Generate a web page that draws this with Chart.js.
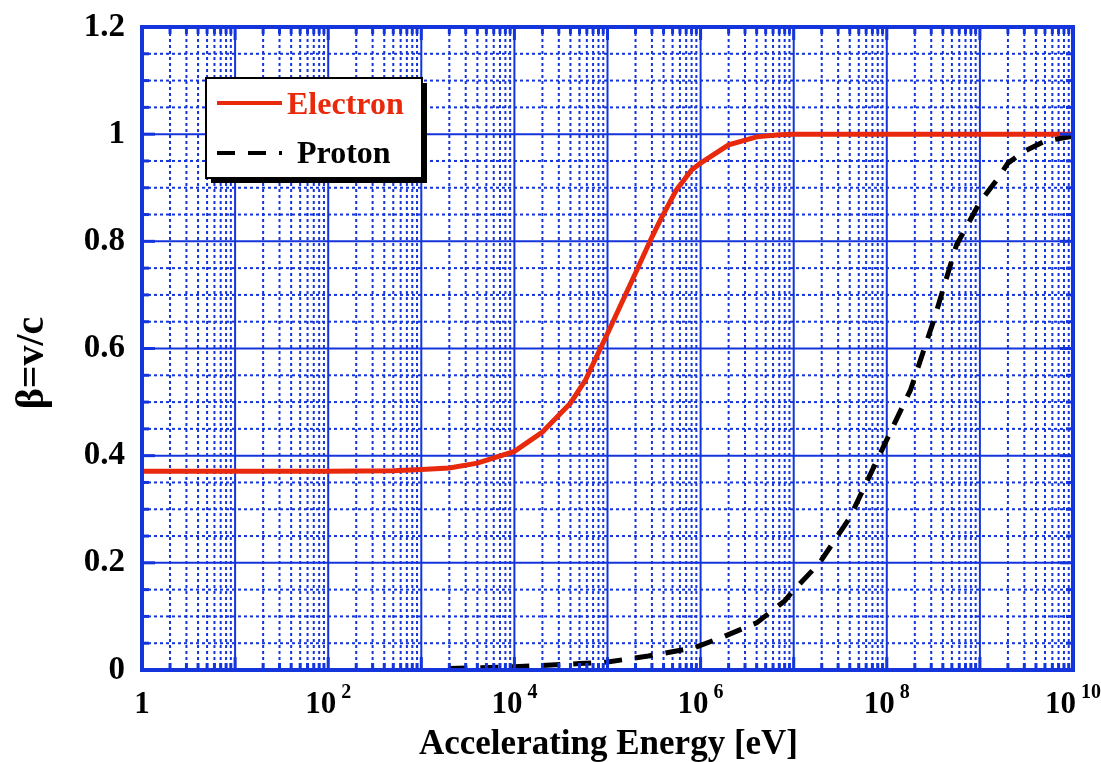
<!DOCTYPE html>
<html><head><meta charset="utf-8">
<script src="https://cdn.jsdelivr.net/npm/chart.js@4/dist/chart.umd.min.js"></script>
<style>html,body{margin:0;padding:0;background:#fff;}canvas{display:block}</style>
</head><body>
<canvas id="c" width="1101" height="762"></canvas>
<script>
// ---- data ----
const electronEnergy = [1, 10, 100, 500, 1e3, 2e3, 4e3, 1e4, 2e4, 4e4, 5.8e4, 1e5, 2e5, 3e5, 3.7e5, 5.5e5, 8e5, 1e6, 2e6, 4e6, 7e6, 1e7, 1e10];
const electronBeta   = [0.371, 0.371, 0.371, 0.372, 0.374, 0.377, 0.386, 0.408, 0.444, 0.498, 0.541, 0.628, 0.741, 0.808, 0.84, 0.896, 0.933, 0.946, 0.98, 0.995, 0.999, 1.0, 1.0];
const protonEnergy = [2e3, 1e4, 5e4, 1e5, 2.75e5, 8.3e5, 1e6, 1.75e6, 4e6, 8e6, 1e7, 1.9e7, 4e7, 1e8, 1.8e8, 3.2e8, 5.6e8, 1e9, 1.6e9, 2e9, 3e9, 5e9, 1e10];
const protonBeta   = [0.003, 0.006, 0.012, 0.015, 0.026, 0.041, 0.046, 0.062, 0.088, 0.129, 0.149, 0.2, 0.284, 0.43, 0.523, 0.653, 0.793, 0.873, 0.92, 0.946, 0.968, 0.987, 0.996];
const seriesNames = ['Electron', 'Proton'];
const xTickValues = [1, 1e2, 1e4, 1e6, 1e8, 1e10];
const xTickBase   = ['1', '10', '10', '10', '10', '10'];
const xTickExp    = ['', '2', '4', '6', '8', '10'];
const yTickValues = [0, 0.2, 0.4, 0.6, 0.8, 1, 1.2];
const yTickLabels = ['0', '0.2', '0.4', '0.6', '0.8', '1', '1.2'];
const xTitle = 'Accelerating Energy [eV]';
const yTitle = 'β=v/c';

const BLUE = '#1434dc';
const RED = '#e8290b';
const FONT = '"Liberation Serif", "Times New Roman", serif';

function seg(ctx, x1, y1, x2, y2) { ctx.beginPath(); ctx.moveTo(x1, y1); ctx.lineTo(x2, y2); ctx.stroke(); }

const decorPlugin = {
  id: 'decor',
  beforeDatasetsDraw(chart) {
    const { ctx, chartArea: a, scales: { x, y } } = chart;
    ctx.save();
    ctx.strokeStyle = BLUE;
    ctx.lineWidth = 2;
    ctx.setLineDash([3, 3]);
    for (let d = 0; d < 10; d++) {
      for (let m = 2; m <= 9; m++) {
        const px = x.getPixelForValue(m * Math.pow(10, d));
        seg(ctx, px, a.top, px, a.bottom);
      }
    }
    for (let k = 1; k < 24; k++) {
      if (k % 4 === 0) continue;
      const py = y.getPixelForValue(k * 0.05);
      seg(ctx, a.left, py, a.right, py);
    }
    ctx.setLineDash([]);
    for (let d = 1; d < 10; d++) {
      const px = x.getPixelForValue(Math.pow(10, d));
      seg(ctx, px, a.top, px, a.bottom);
    }
    for (let k = 1; k < 6; k++) {
      const py = y.getPixelForValue(k * 0.2);
      seg(ctx, a.left, py, a.right, py);
    }
    ctx.restore();
  },
  afterDatasetsDraw(chart) {
    const { ctx, chartArea: a, scales: { x, y } } = chart;
    ctx.save();
    ctx.strokeStyle = BLUE;
    ctx.lineWidth = 3;
    for (let d = 0; d <= 10; d++) {
      const px = x.getPixelForValue(Math.pow(10, d));
      seg(ctx, px, a.bottom, px, a.bottom - 13);
      seg(ctx, px, a.top, px, a.top + 13);
      if (d < 10) {
        for (let m = 2; m <= 9; m++) {
          const pm = x.getPixelForValue(m * Math.pow(10, d));
          seg(ctx, pm, a.bottom, pm, a.bottom - 7);
          seg(ctx, pm, a.top, pm, a.top + 7);
        }
      }
    }
    for (let k = 0; k <= 24; k++) {
      const py = y.getPixelForValue(k * 0.05);
      const len = (k % 4 === 0) ? 13 : 7;
      seg(ctx, a.left, py, a.left + len, py);
      seg(ctx, a.right, py, a.right - len, py);
    }
    ctx.lineWidth = 4;
    ctx.strokeRect(a.left, a.top, a.right - a.left, a.bottom - a.top);
    ctx.restore();
  },
  afterDraw(chart) {
    const { ctx, chartArea: a, scales: { x, y } } = chart;
    ctx.save();
    ctx.fillStyle = '#000';
    // y tick labels
    ctx.font = 'bold 33px ' + FONT;
    ctx.textAlign = 'right';
    ctx.textBaseline = 'middle';
    for (let i = 0; i < yTickValues.length; i++) {
      ctx.fillText(yTickLabels[i], a.left - 17, y.getPixelForValue(yTickValues[i]));
    }
    // x tick labels with superscripts
    ctx.textBaseline = 'alphabetic';
    ctx.textAlign = 'left';
    for (let i = 0; i < xTickValues.length; i++) {
      const px = x.getPixelForValue(xTickValues[i]);
      ctx.font = 'bold 31px ' + FONT;
      const wb = ctx.measureText(xTickBase[i]).width;
      let we = 0;
      if (xTickExp[i]) { ctx.font = 'bold 20px ' + FONT; we = ctx.measureText(xTickExp[i]).width + 5; }
      const x0 = px - (wb + we) / 2;
      ctx.font = 'bold 31px ' + FONT;
      ctx.fillText(xTickBase[i], x0, 713);
      if (xTickExp[i]) {
        ctx.font = 'bold 20px ' + FONT;
        ctx.fillText(xTickExp[i], x0 + wb + 5, 698);
      }
    }
    // x title
    ctx.font = 'bold 35px ' + FONT;
    ctx.textAlign = 'center';
    ctx.fillText(xTitle, (a.left + a.right) / 2 + 1, 754);
    // y title
    ctx.save();
    ctx.translate(33, 363);
    ctx.rotate(-Math.PI / 2);
    ctx.font = 'bold 40px ' + FONT;
    ctx.textBaseline = 'middle';
    ctx.fillText(yTitle, 0, 0);
    ctx.restore();
    // legend
    const L = 206, T = 78, W = 216, H = 100;
    ctx.fillStyle = '#000';
    ctx.fillRect(L + 5, T + 5, W, H);
    ctx.fillStyle = '#fff';
    ctx.fillRect(L, T, W, H);
    ctx.strokeStyle = '#000';
    ctx.lineWidth = 2;
    ctx.strokeRect(L, T, W, H);
    ctx.lineWidth = 4;
    ctx.strokeStyle = RED;
    seg(ctx, 217, 103, 282, 103);
    ctx.strokeStyle = '#000';
    ctx.setLineDash([18, 13]);
    seg(ctx, 217, 153, 282, 153);
    ctx.setLineDash([]);
    ctx.font = 'bold 32px ' + FONT;
    ctx.textAlign = 'left';
    ctx.textBaseline = 'alphabetic';
    ctx.fillStyle = RED;
    ctx.fillText(seriesNames[0], 287, 114);
    ctx.fillStyle = '#000';
    ctx.fillText(seriesNames[1], 297, 163);
    ctx.restore();
  }
};

new Chart(document.getElementById('c'), {
  type: 'line',
  data: {
    datasets: [
      {
        label: seriesNames[0],
        data: electronEnergy.map((e, i) => ({ x: e, y: electronBeta[i] })),
        borderColor: RED, borderWidth: 5, pointRadius: 0, tension: 0, fill: false, order: 1
      },
      {
        label: seriesNames[1],
        data: protonEnergy.map((e, i) => ({ x: e, y: protonBeta[i] })),
        borderColor: '#000', borderWidth: 5, borderDash: [18, 13], pointRadius: 0, tension: 0, fill: false, order: 0
      }
    ]
  },
  options: {
    responsive: false,
    animation: false,
    devicePixelRatio: 1,
    layout: { padding: { top: 27, right: 28, left: 0, bottom: 0 } },
    plugins: { legend: { display: false }, tooltip: { enabled: false } },
    scales: {
      x: {
        type: 'logarithmic', min: 1, max: 1e10,
        grid: { display: false, drawTicks: false },
        border: { display: false },
        ticks: { display: false },
        afterFit(s) { s.height = 92; }
      },
      y: {
        type: 'linear', min: 0, max: 1.2,
        grid: { display: false, drawTicks: false },
        border: { display: false },
        ticks: { display: false },
        afterFit(s) { s.width = 142; }
      }
    }
  },
  plugins: [decorPlugin]
});
</script>
</body></html>
